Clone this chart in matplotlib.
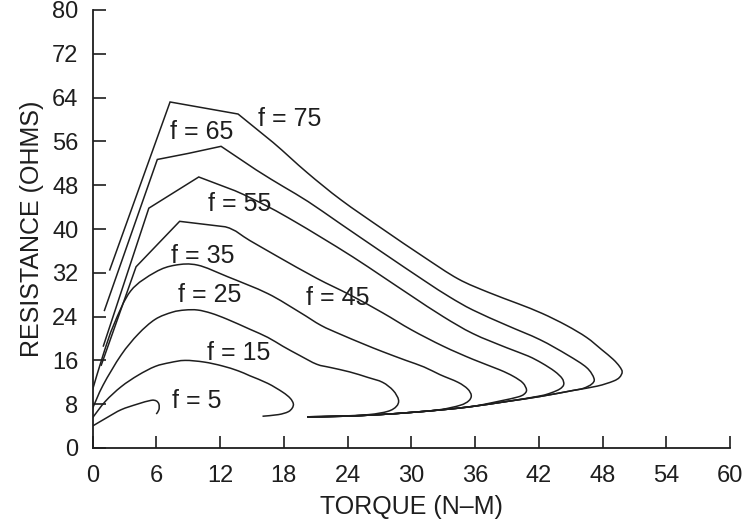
import matplotlib
matplotlib.use("Agg")
import matplotlib.pyplot as plt
from matplotlib.path import Path
from matplotlib.patches import PathPatch

plt.rcParams['font.family'] = ['Liberation Sans', 'DejaVu Sans']

# Axis ticks
x_ticks = [0, 6, 12, 18, 24, 30, 36, 42, 48, 54, 60]
y_ticks = [0, 8, 16, 24, 32, 40, 48, 56, 64, 72, 80]

# Resistance vs torque curves, one per frequency f
torque_f5 = [0.0, 1.4, 2.7, 4.2, 5.5, 6.0, 6.25, 6.25, 6.0]
resist_f5 = [4.0, 5.6, 7.0, 8.0, 8.7, 8.6, 8.0, 7.0, 6.2]

torque_f15 = [0.0, 1.2, 2.7, 4.3, 5.9, 7.3, 8.7, 10.5, 12.2, 13.7, 14.8, 16.5,
              17.9, 18.6, 18.9, 18.8, 18.4, 17.5, 16.0]
resist_f15 = [5.5, 8.5, 11.2, 13.3, 14.9, 15.6, 16.0, 15.7, 15.0, 14.1, 13.2, 11.8,
              10.2, 9.1, 8.1, 7.3, 6.6, 6.1, 5.8]

torque_f25 = [0.0, 1.0, 2.7, 4.3, 5.9, 7.5, 8.7, 9.9, 11.2, 12.7, 14.8, 16.5,
              17.9, 19.5, 21.1, 22.4, 24.2, 25.9, 27.3, 28.3, 28.8, 28.6, 27.8,
              26.0, 23.0, 20.2]
resist_f25 = [7.2, 11.5, 17.0, 20.8, 23.5, 24.8, 25.2, 25.2, 24.6, 23.5, 21.7, 20.2,
              18.6, 16.9, 15.3, 14.7, 13.9, 12.9, 12.0, 10.5, 8.8, 7.6, 6.7,
              6.1, 5.8, 5.7]

torque_f35 = [0.0, 1.0, 2.0, 3.6, 5.9, 7.8, 9.9, 12.7, 16.5, 19.5, 21.5, 23.3,
              25.5, 27.3, 29.5, 31.2, 32.7, 34.4, 35.3, 35.65, 35.4, 34.6, 32.7,
              30.0, 27.0, 23.5, 20.2]
resist_f35 = [10.6, 17.0, 22.5, 28.7, 32.1, 33.4, 33.4, 31.3, 28.2, 24.8, 22.4, 20.8,
              19.0, 17.6, 16.0, 14.8, 13.4, 12.0, 10.8, 9.6, 8.6, 7.8, 7.0,
              6.5, 6.1, 5.8, 5.7]

torque_f45 = [0.8, 4.1, 8.2, 12.5, 14.8, 17.4, 21.1, 24.2, 27.3, 30.0, 33.0, 35.8,
              38.3, 39.6, 40.5, 40.85, 40.6, 40.0, 38.4, 35.8, 33.0, 30.0, 27.0,
              23.5, 20.2]
resist_f45 = [15.0, 33.1, 41.4, 40.4, 37.9, 35.0, 31.0, 28.0, 24.7, 21.6, 18.6, 16.2,
              14.3, 13.1, 11.9, 10.6, 9.8, 9.3, 8.6, 7.6, 7.0, 6.5, 6.1,
              5.8, 5.7]

torque_f55 = [1.0, 5.3, 10.0, 13.4, 16.6, 19.0, 21.5, 24.5, 27.3, 30.0, 33.0, 35.8,
              39.0, 41.0, 42.3, 43.5, 44.2, 44.35, 44.0, 43.2, 42.1, 39.0, 35.8,
              33.0, 30.0, 27.0, 23.5, 20.2]
resist_f55 = [18.5, 43.8, 49.5, 47.0, 44.0, 41.4, 38.5, 34.9, 31.3, 27.8, 24.0, 20.9,
              18.3, 16.8, 15.5, 14.0, 12.7, 11.6, 10.8, 10.1, 9.5, 8.5, 7.6,
              7.0, 6.5, 6.1, 5.8, 5.7]

torque_f65 = [1.1, 6.1, 9.0, 12.1, 15.4, 18.0, 20.3, 23.3, 27.3, 31.2, 33.6, 35.8,
              39.0, 42.1, 44.7, 46.5, 47.2, 47.0, 46.2, 45.2, 42.1, 39.0, 35.8,
              33.0, 30.0, 27.0, 23.5, 20.2]
resist_f65 = [25.0, 52.7, 53.8, 55.1, 50.8, 47.7, 45.0, 41.0, 35.7, 30.6, 27.6, 25.2,
              22.4, 19.8, 17.0, 14.7, 12.7, 11.7, 10.9, 10.5, 9.4, 8.5, 7.6,
              7.0, 6.5, 6.1, 5.8, 5.7]

torque_f75 = [1.6, 7.3, 13.7, 17.0, 20.2, 23.4, 27.3, 31.1, 34.4, 37.3, 40.0, 42.3,
              44.6, 46.5, 47.9, 49.0, 49.6, 49.85, 49.6, 49.0, 47.5, 45.2, 42.1,
              39.0, 35.8, 33.0, 30.0, 27.0, 23.5, 20.2]
resist_f75 = [32.4, 63.2, 61.0, 55.8, 50.3, 45.3, 40.0, 35.0, 30.9, 28.4, 26.4, 24.6,
              22.4, 20.2, 18.0, 16.2, 14.9, 13.9, 12.9, 12.2, 11.3, 10.5, 9.4,
              8.5, 7.6, 7.0, 6.5, 6.1, 5.8, 5.7]

# Each series: (torque, resistance, number of leading points joined by straight segments)
series = [
    (torque_f5, resist_f5, 1),
    (torque_f15, resist_f15, 1),
    (torque_f25, resist_f25, 1),
    (torque_f35, resist_f35, 1),
    (torque_f45, resist_f45, 4),
    (torque_f55, resist_f55, 4),
    (torque_f65, resist_f65, 5),
    (torque_f75, resist_f75, 4),
]

# Curve labels and where they sit (torque, resistance)
label_text = ["f = 5", "f = 15", "f = 25", "f = 35", "f = 45", "f = 55", "f = 65", "f = 75"]
label_x = [9.85, 13.8, 11.05, 10.4, 23.1, 13.9, 10.3, 18.6]
label_y = [8.5, 17.3, 27.9, 35.1, 27.4, 44.6, 57.7, 60.0]

ink = '#1e1e1e'


def curve_path(xs, ys, n_sharp):
    """Polyline through the first n_sharp points, then a smooth
    Catmull-Rom (cubic Bezier) curve through the remaining ones."""
    pts = list(zip(xs, ys))
    verts = [pts[0]]
    codes = [Path.MOVETO]
    for p in pts[1:n_sharp]:
        verts.append(p)
        codes.append(Path.LINETO)
    last = len(pts) - 1
    for i in range(n_sharp - 1, last):
        p0 = pts[max(i - 1, 0)]
        p1 = pts[i]
        p2 = pts[i + 1]
        p3 = pts[min(i + 2, last)]
        c1 = (p1[0] + (p2[0] - p0[0]) / 6.0, p1[1] + (p2[1] - p0[1]) / 6.0)
        c2 = (p2[0] - (p3[0] - p1[0]) / 6.0, p2[1] - (p3[1] - p1[1]) / 6.0)
        verts += [c1, c2, p2]
        codes += [Path.CURVE4] * 3
    return Path(verts, codes)


fig = plt.figure(figsize=(7.46, 5.21), dpi=100)
ax = fig.add_axes([92.5 / 746, 73 / 521, (730 - 92.5) / 746, (448 - 10) / 521])

for tq, rs, n_sharp in series:
    ax.add_patch(PathPatch(curve_path(tq, rs, n_sharp), facecolor='none',
                           edgecolor=ink, lw=1.1, joinstyle='miter'))

for txt, lx, ly in zip(label_text, label_x, label_y):
    ax.text(lx, ly, txt, ha='center', va='center', fontsize=18, color=ink)

ax.set_xlim(0, 60)
ax.set_ylim(0, 80)
ax.set_xticks(x_ticks)
ax.set_yticks(y_ticks)
ax.spines['top'].set_visible(False)
ax.spines['right'].set_visible(False)
for side in ('left', 'bottom'):
    ax.spines[side].set_linewidth(1.3)
    ax.spines[side].set_color(ink)
ax.tick_params(direction='in', length=9, width=1.2, colors=ink, labelsize=17)
ax.tick_params(axis='x', pad=12)
ax.tick_params(axis='y', pad=10)

ax.set_xlabel("TORQUE (N\u2013M)", fontsize=18, color=ink, labelpad=6)
ax.set_ylabel("RESISTANCE (OHMS)", fontsize=18, color=ink, labelpad=6)

fig.savefig("out.png", dpi=100)
